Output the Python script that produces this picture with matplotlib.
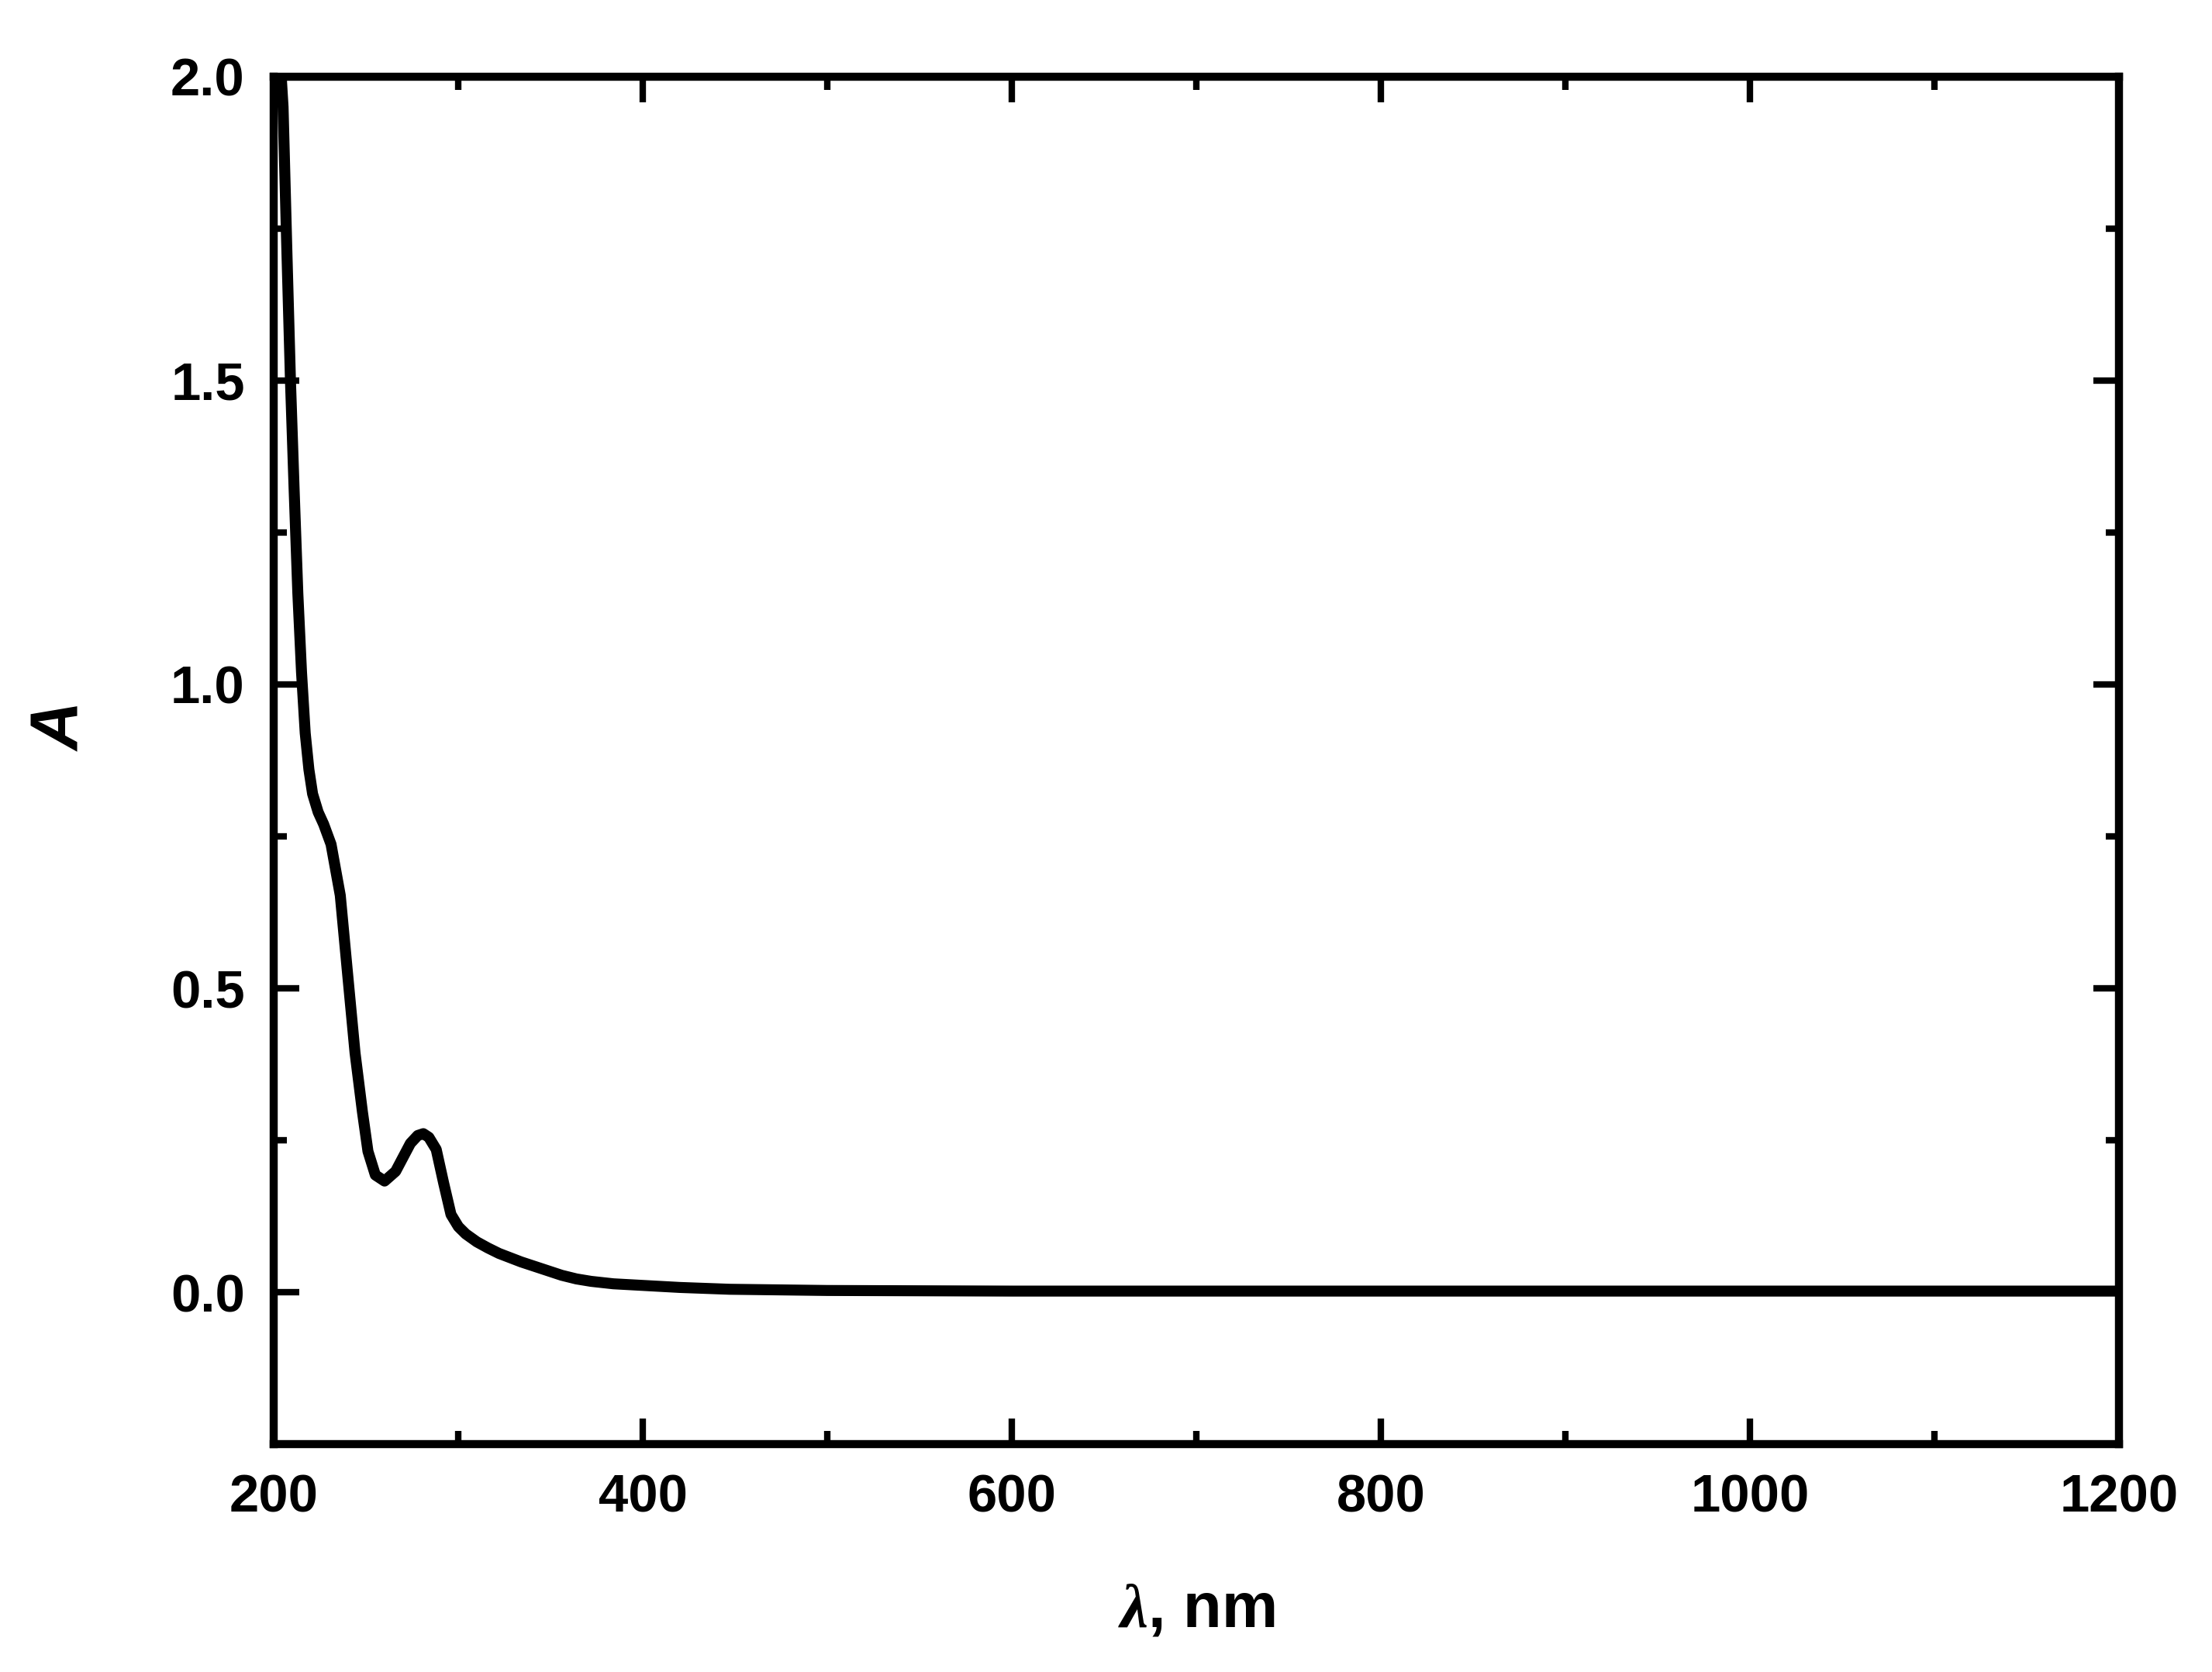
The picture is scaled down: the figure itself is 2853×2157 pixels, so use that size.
import matplotlib
matplotlib.use("Agg")
import matplotlib.pyplot as plt
from matplotlib.ticker import MultipleLocator

# absorption spectrum
wavelength = [202, 205, 207, 209, 211, 213, 215, 217, 219, 221, 224, 227, 231, 236,
              240, 244, 248, 251, 255, 260, 266, 270, 274, 278, 281, 284, 288, 292,
              296, 300, 304, 310, 316, 322, 328, 334, 340, 348, 356, 364, 372, 384,
              396, 420, 447, 500, 600, 800, 1000, 1200]
absorbance = [2.10, 1.95, 1.72, 1.50, 1.32, 1.15, 1.02, 0.92, 0.86, 0.82, 0.79,
              0.77, 0.737, 0.653, 0.523, 0.394, 0.297, 0.232, 0.193, 0.183, 0.199,
              0.222, 0.245, 0.258, 0.261, 0.255, 0.235, 0.180, 0.128, 0.108, 0.096,
              0.083, 0.073, 0.064, 0.057, 0.050, 0.044, 0.036, 0.028, 0.022, 0.018,
              0.014, 0.012, 0.008, 0.005, 0.003, 0.002, 0.002, 0.002, 0.002]

plt.rcParams['font.family'] = ['Liberation Sans', 'DejaVu Sans']
plt.rcParams['font.weight'] = 'bold'
plt.rcParams['mathtext.fontset'] = 'custom'
plt.rcParams['mathtext.it'] = 'Liberation Serif:italic'
plt.rcParams['mathtext.rm'] = 'Liberation Sans:bold'

fig = plt.figure(figsize=(9.51, 7.19), dpi=300)
ax = fig.add_axes([0.1238, 0.1362, 0.8342, 0.8180])

ax.plot(wavelength, absorbance, color='black', lw=3.4, solid_joinstyle='round',
        solid_capstyle='butt')

ax.set_xlim(200, 1200)
ax.set_ylim(-0.25, 2.0)
ax.xaxis.set_major_locator(MultipleLocator(200))
ax.xaxis.set_minor_locator(MultipleLocator(100))
ax.yaxis.set_major_locator(MultipleLocator(0.5))
ax.yaxis.set_minor_locator(MultipleLocator(0.25))
ax.yaxis.set_major_formatter(plt.FuncFormatter(lambda v, p: '%.1f' % v))

for s in ax.spines.values():
    s.set_linewidth(2.5)
ax.tick_params(which='both', direction='in', top=True, right=True, width=2.0)
ax.tick_params(which='major', length=8, labelsize=16.5, pad=9)
ax.tick_params(which='minor', length=4)
for lab in ax.get_xticklabels() + ax.get_yticklabels():
    lab.set_fontweight('bold')

ax.set_xlabel(r'$\mathit{\lambda}$, nm', fontsize=19.5, fontweight='bold')
ax.set_ylabel('A', fontsize=21, fontweight='bold', fontstyle='italic')
ax.xaxis.set_label_coords(0.5, -0.100)
ax.yaxis.set_label_coords(-0.098, 0.525)

fig.savefig('out.png', dpi=300)
